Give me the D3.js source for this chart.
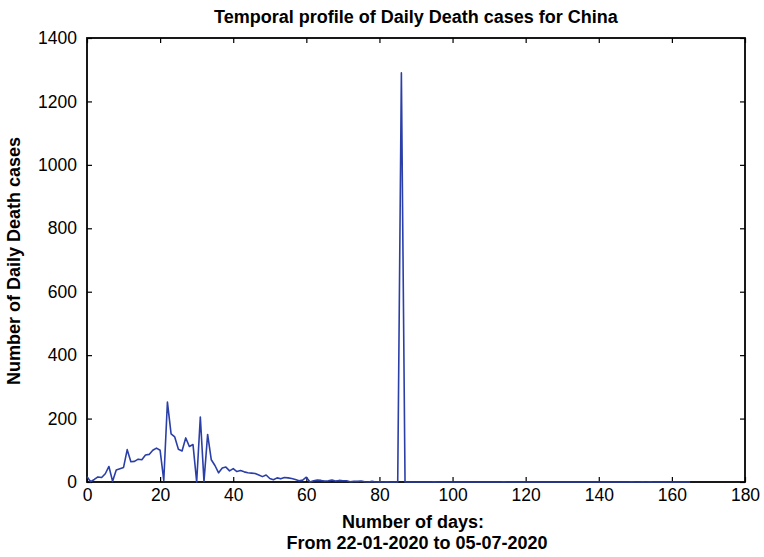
<!DOCTYPE html>
<html>
<head>
<meta charset="utf-8">
<script src="https://cdn.jsdelivr.net/npm/d3@7"></script>
<style>
  html, body { margin: 0; padding: 0; background: #fff; }
  svg { display: block; font-family: "Liberation Sans", Arial, sans-serif; }
</style>
</head>
<body>
<svg id="chart" width="764" height="557"></svg>
<script>
// Daily death counts for China, one value per day starting 22-01-2020
const dailyDeaths = [
  17, 1, 8, 16, 14, 26, 49, 2, 38, 42,
  46, 102, 64, 65, 72, 70, 85, 87, 100, 107,
  100, 5, 252, 152, 142, 103, 98, 139, 112, 118,
  0, 205, 2, 150, 70, 52, 29, 44, 47, 35,
  42, 33, 36, 32, 29, 28, 27, 22, 17, 22,
  11, 7, 13, 10, 14, 13, 11, 8, 4, 6,
  15, 0, 4, 6, 5, 3, 4, 6, 3, 5,
  4, 4, 1, 2, 2, 3, 1, 0, 2, 0,
  1, 0, 1, 0, 0, 0, 1290, 0, 0, 0,
  0, 0, 0, 0, 0, 1, 0, 0, 0, 0,
  0, 0, 0, 0, 0, 0, 0, 0, 0, 0,
  0, 0, 0, 0, 1, 0, 0, 0, 0, 0,
  0, 0, 0, 0, 0, 0, 0, 0, 0, 0,
  0, 0, 0, 0, 0, 0, 0, 0, 0, 0,
  0, 0, 0, 0, 0, 0, 0, 0, 0, 1,
  0, 0, 1, 0, 1, 0, 0, 0, 0, 0,
  0, 0, 0, 0, 0, 0
];
const xTicks = [0, 20, 40, 60, 80, 100, 120, 140, 160, 180];
const yTicks = [0, 200, 400, 600, 800, 1000, 1200, 1400];
const titleText = "Temporal profile of Daily Death cases for China";
const xLabelLines = ["Number of days:", "From 22-01-2020 to 05-07-2020"];
const yLabelText = "Number of Daily Death cases";

const svg = d3.select("#chart");
const plot = { left: 87, right: 745, top: 38, bottom: 482 };

const x = d3.scaleLinear().domain([0, 180]).range([plot.left, plot.right]);
const y = d3.scaleLinear().domain([0, 1400]).range([plot.bottom, plot.top]);

const tickLen = 5;
const tickFont = "17.5px";

// Bottom axis: labels outside, ticks pointing inward
const xAxis = svg.append("g")
  .attr("transform", `translate(0,${plot.bottom})`)
  .call(d3.axisBottom(x).tickValues(xTicks).tickSize(-tickLen).tickPadding(7).tickFormat(d3.format("d")));
// Left axis
const yAxis = svg.append("g")
  .attr("transform", `translate(${plot.left},0)`)
  .call(d3.axisLeft(y).tickValues(yTicks).tickSize(-tickLen).tickPadding(10).tickFormat(d3.format("d")));
// Mirrored ticks on top and right
const xTop = svg.append("g")
  .attr("transform", `translate(0,${plot.top})`)
  .call(d3.axisTop(x).tickValues(xTicks).tickSize(-tickLen).tickFormat(""));
const yRight = svg.append("g")
  .attr("transform", `translate(${plot.right},0)`)
  .call(d3.axisRight(y).tickValues(yTicks).tickSize(-tickLen).tickFormat(""));

[xAxis, yAxis, xTop, yRight].forEach(g => {
  g.select(".domain").remove();
  g.selectAll(".tick line").attr("stroke", "#000").attr("stroke-width", 1.2);
  g.selectAll(".tick text")
    .attr("fill", "#000")
    .style("font-size", tickFont)
    .style("font-family", "'Liberation Sans', Arial, sans-serif");
});

// Data line
const line = d3.line()
  .x((d, i) => x(i))
  .y(d => y(d));

// Box frame
svg.append("rect")
  .attr("x", plot.left).attr("y", plot.top)
  .attr("width", plot.right - plot.left)
  .attr("height", plot.bottom - plot.top)
  .attr("fill", "none")
  .attr("stroke", "#000")
  .attr("stroke-width", 1.8);

svg.append("path")
  .datum(dailyDeaths)
  .attr("fill", "none")
  .attr("stroke", "#2b3fa8")
  .attr("stroke-width", 1.6)
  .attr("stroke-linejoin", "round")
  .attr("d", line);

// Title
svg.append("text")
  .attr("x", 416).attr("y", 23)
  .attr("text-anchor", "middle")
  .style("font-size", "18px")
  .style("font-weight", "bold")
  .text(titleText);

// X axis label (two lines)
svg.append("text")
  .attr("x", 413).attr("y", 528)
  .attr("text-anchor", "middle")
  .style("font-size", "18px")
  .style("font-weight", "bold")
  .text(xLabelLines[0]);
svg.append("text")
  .attr("x", 417).attr("y", 549)
  .attr("text-anchor", "middle")
  .style("font-size", "18px")
  .style("font-weight", "bold")
  .text(xLabelLines[1]);

// Y axis label
svg.append("text")
  .attr("transform", `translate(20,261) rotate(-90)`)
  .attr("text-anchor", "middle")
  .style("font-size", "18px")
  .style("font-weight", "bold")
  .text(yLabelText);
</script>
</body>
</html>
